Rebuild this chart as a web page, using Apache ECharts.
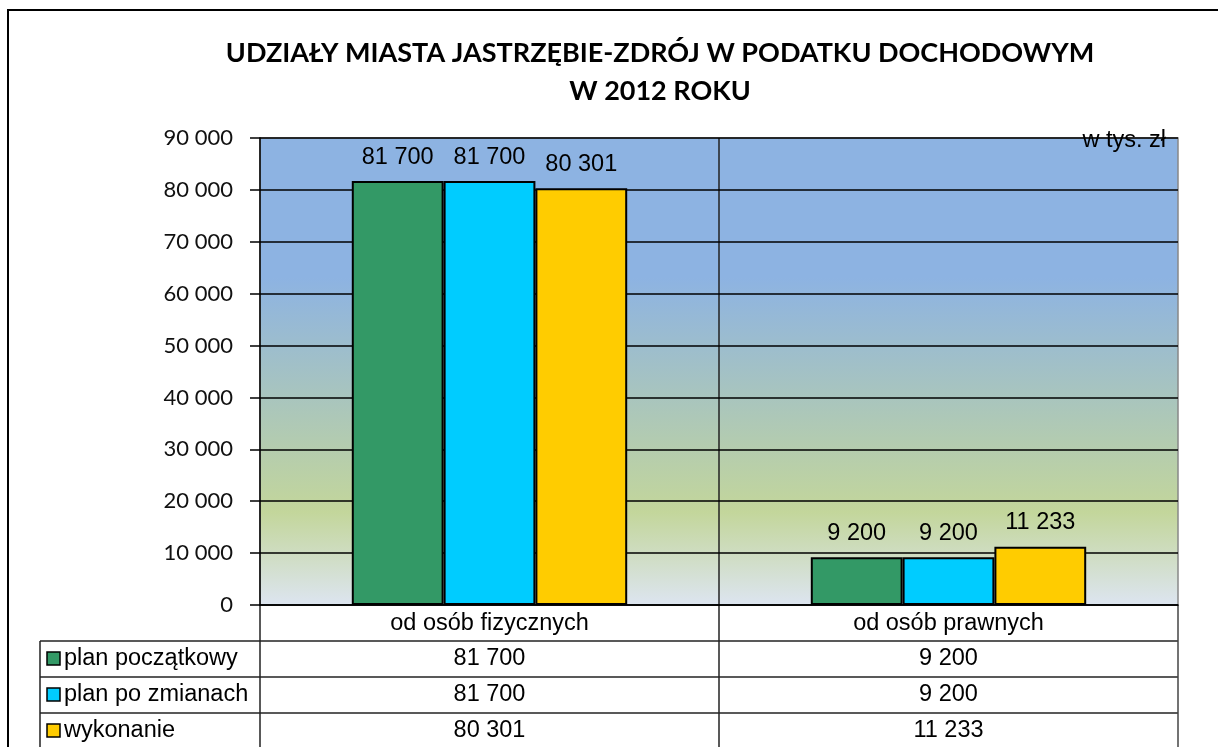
<!DOCTYPE html>
<html>
<head>
<meta charset="utf-8">
<script src="https://cdn.jsdelivr.net/npm/echarts@6/dist/echarts.min.js"></script>
<style>
  html, body { margin: 0; padding: 0; background: #fff; }
  #main { width: 1218px; height: 747px; }
</style>
</head>
<body>
<div id="main"></div>
<script>
// data (w tys. zł)
const categories = ['od osób fizycznych', 'od osób prawnych'];
const seriesNames = ['plan początkowy', 'plan po zmianach', 'wykonanie'];
const planPoczatkowy = [81700, 9200];
const planPoZmianach = [81700, 9200];
const wykonanie = [80301, 11233];
const seriesColors = ['#339966', '#00CCFF', '#FFCC00'];

const allValues = [planPoczatkowy, planPoZmianach, wykonanie];

const chart = echarts.init(document.getElementById('main'));

// plot area
const G = { left: 260, top: 138, width: 918, height: 467 };
const rowH = 36;
const tableLeft = 40;
const bottomY = G.top + G.height;

function fmt(v) {
  return String(v).replace(/\B(?=(\d{3})+(?!\d))/g, ' ');
}

const arial = '"Liberation Sans", Arial, sans-serif';
const fs = 23.5;

// table below chart
const graphics = [];
const right = G.left + G.width;
// horizontal lines
for (let r = 0; r < 3; r++) {
  const y = bottomY + rowH + r * rowH;
  graphics.push({ type: 'line', shape: { x1: tableLeft, y1: y, x2: right, y2: y },
    style: { stroke: '#222', lineWidth: 1.5 } });
}
// vertical lines
graphics.push({ type: 'line', shape: { x1: tableLeft, y1: bottomY + rowH, x2: tableLeft, y2: 760 }, style: { stroke: '#222', lineWidth: 1.5 } });
graphics.push({ type: 'line', shape: { x1: G.left, y1: bottomY, x2: G.left, y2: 760 }, style: { stroke: '#222', lineWidth: 1.5 } });
graphics.push({ type: 'line', shape: { x1: G.left + G.width / 2, y1: G.top, x2: G.left + G.width / 2, y2: 760 }, style: { stroke: '#222', lineWidth: 1.5 } });
graphics.push({ type: 'line', shape: { x1: right, y1: bottomY, x2: right, y2: 760 }, style: { stroke: '#444', lineWidth: 1.5 } });

seriesNames.forEach(function (name, s) {
  const cy = bottomY + rowH + s * rowH + rowH / 2;
  graphics.push({ type: 'rect', shape: { x: 47, y: cy - 7, width: 13, height: 13 },
    style: { fill: seriesColors[s], stroke: '#000', lineWidth: 1.5 } });
  graphics.push({ type: 'text', x: 64, y: cy, style: { text: name, font: fs + 'px ' + arial,
    fill: '#000', textAlign: 'left', textVerticalAlign: 'middle' } });
  categories.forEach(function (c, i) {
    const cx = G.left + G.width * (i + 0.5) / categories.length;
    graphics.push({ type: 'text', x: cx, y: cy, style: { text: fmt(allValues[s][i]),
      font: fs + 'px ' + arial, fill: '#000', textAlign: 'center', textVerticalAlign: 'middle' } });
  });
});

// unit label
graphics.push({ type: 'text', x: 1166, y: 141, style: { text: 'w tys. zł', font: fs + 'px ' + arial,
  fill: '#000', textAlign: 'right', textVerticalAlign: 'middle' }, z: 10 });

// outer frame
graphics.push({ type: 'rect', shape: { x: 8, y: 10, width: 1400, height: 900 },
  style: { fill: null, stroke: '#000', lineWidth: 2 }, z: -1 });

const option = {
  animation: false,
  backgroundColor: '#fff',
  title: {
    text: 'UDZIAŁY MIASTA JASTRZĘBIE-ZDRÓJ W PODATKU DOCHODOWYM\nW 2012 ROKU',
    left: 655,
    textAlign: 'center',
    top: 29,
    textStyle: {
      fontFamily: 'Lato, "Open Sans", sans-serif',
      fontWeight: 'bold',
      fontSize: 27,
      lineHeight: 38,
      color: '#000'
    }
  },
  grid: {
    left: G.left, top: G.top, width: G.width, height: G.height,
    show: true,
    borderColor: '#888',
    borderWidth: 1.5,
    backgroundColor: new echarts.graphic.LinearGradient(0, 0, 0, 1, [
      { offset: 0, color: '#8DB3E2' },
      { offset: 0.3, color: '#8DB3E2' },
      { offset: 0.8, color: '#C3D69B' },
      { offset: 1, color: '#DDE5F1' }
    ])
  },
  xAxis: {
    type: 'category',
    data: categories,
    axisLine: { lineStyle: { color: '#000', width: 1.5 } },
    axisTick: { show: false },
    axisLabel: { color: '#000', fontFamily: arial, fontSize: fs, margin: 7 },
    splitLine: { show: false }
  },
  yAxis: {
    type: 'value',
    min: 0,
    max: 90000,
    interval: 10000,
    axisLine: { show: true, lineStyle: { color: '#000', width: 1.5 } },
    axisTick: { show: true, length: 10, lineStyle: { color: '#000', width: 1.5 } },
    axisLabel: {
      color: '#111', fontFamily: 'Lato, "Open Sans", sans-serif', fontSize: 22, margin: 27,
      formatter: fmt
    },
    splitLine: { show: true, lineStyle: { color: '#000', width: 1.5 } }
  },
  series: seriesNames.map(function (name, s) {
    return {
      name: name,
      type: 'bar',
      data: allValues[s],
      barGap: '0%',
      barCategoryGap: '40%',
      itemStyle: { color: seriesColors[s], borderColor: '#000', borderWidth: 2 },
      label: {
        show: true,
        position: 'top',
        distance: 12,
        color: '#000',
        fontFamily: arial,
        fontSize: fs,
        formatter: function (p) { return fmt(p.value); }
      }
    };
  }),
  graphic: graphics
};

chart.setOption(option);
</script>
</body>
</html>
